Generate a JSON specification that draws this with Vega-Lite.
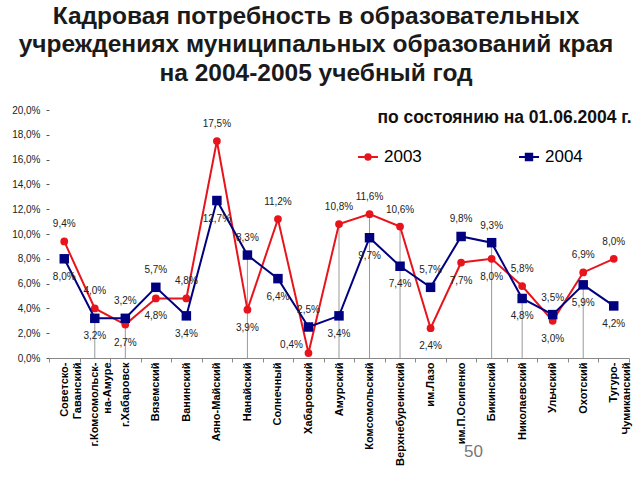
{
  "$schema": "https://vega.github.io/schema/vega-lite/v6.json",
  "width": 580,
  "height": 248,
  "autosize": {"type": "none"},
  "padding": {"left": 49, "top": 110, "right": 11, "bottom": 122},
  "background": "white",
  "title": {
    "text": ["Кадровая потребность в образовательных", "учреждениях муниципальных образований края", "на 2004-2005 учебный год"],
    "font": "Liberation Sans",
    "fontSize": 24.5,
    "fontWeight": "bold",
    "color": "#1a1a1a",
    "lineHeight": 28.5,
    "anchor": "middle",
    "dx": -23,
    "offset": 19
  },
  "config": {
    "view": {"stroke": null},
    "font": "Liberation Sans",
    "axisY": {
      "labelOverlap": false,
      "tickCount": 11,
      "values": [0, 0.02, 0.04, 0.06, 0.08, 0.1, 0.12, 0.14, 0.16, 0.18, 0.2],
      "labelFontSize": 10,
      "labelColor": "#222222",
      "labelPadding": 6,
      "domain": false,
      "tickSize": 3,
      "tickColor": "#555555",
      "grid": false
    },
    "locale": {"number": {"decimal": ",", "thousands": " ", "grouping": [3], "currency": ["", ""]}}
  },
  "data": {
    "values": [
      {"region": "Советско-\nГаванский", "y2003": 0.094, "y2004": 0.080, "drop": null},
      {"region": "г.Комсомольск-\nна-Амуре", "y2003": 0.040, "y2004": 0.032, "drop": 0.032},
      {"region": "г.Хабаровск", "y2003": 0.027, "y2004": 0.032, "drop": 0.032},
      {"region": "Вяземский", "y2003": 0.048, "y2004": 0.057, "drop": null},
      {"region": "Ванинский", "y2003": 0.048, "y2004": 0.034, "drop": null},
      {"region": "Аяно-Майский", "y2003": 0.175, "y2004": 0.127, "drop": null},
      {"region": "Нанайский", "y2003": 0.039, "y2004": 0.083, "drop": 0.083},
      {"region": "Солнечный", "y2003": 0.112, "y2004": 0.064, "drop": null},
      {"region": "Хабаровский", "y2003": 0.004, "y2004": 0.025, "drop": null},
      {"region": "Амурский", "y2003": 0.108, "y2004": 0.034, "drop": 0.108},
      {"region": "Комсомольский", "y2003": 0.116, "y2004": 0.097, "drop": 0.116},
      {"region": "Верхнебуреинский", "y2003": 0.106, "y2004": 0.074, "drop": 0.106},
      {"region": "им.Лазо", "y2003": 0.024, "y2004": 0.057, "drop": null},
      {"region": "им.П.Осипенко", "y2003": 0.077, "y2004": 0.098, "drop": null},
      {"region": "Бикинский", "y2003": 0.080, "y2004": 0.093, "drop": 0.093},
      {"region": "Николаевский", "y2003": 0.058, "y2004": 0.048, "drop": 0.048},
      {"region": "Ульчский", "y2003": 0.030, "y2004": 0.035, "drop": null},
      {"region": "Охотский", "y2003": 0.069, "y2004": 0.059, "drop": 0.059},
      {"region": "Тугуро-\nЧумиканский", "y2003": 0.080, "y2004": 0.042, "drop": null}
    ]
  },
  "encoding": {
    "x": {
      "field": "region",
      "type": "nominal",
      "sort": null,
      "scale": {
        "type": "band",
        "paddingInner": 0,
        "paddingOuter": 0,
        "domain": ["Советско-\nГаванский", "г.Комсомольск-\nна-Амуре", "г.Хабаровск", "Вяземский", "Ванинский", "Аяно-Майский", "Нанайский", "Солнечный", "Хабаровский", "Амурский", "Комсомольский", "Верхнебуреинский", "им.Лазо", "им.П.Осипенко", "Бикинский", "Николаевский", "Ульчский", "Охотский", "Тугуро-\nЧумиканский"]
      },
      "axis": {
        "title": "50",
        "titleX": 424,
        "titleY": 98,
        "titleAlign": "center",
        "titleBaseline": "alphabetic",
        "titleFontSize": 17,
        "titleFontWeight": "normal",
        "titleColor": "#777777",
        "labelExpr": "split(datum.label, '\\n')",
        "labelAngle": 270,
        "labelFontSize": 11,
        "labelFontWeight": "bold",
        "labelColor": "#000000",
        "labelLimit": 200,
        "labelPadding": 0,
        "tickBand": "extent",
        "tickSize": 4,
        "tickColor": "#888888",
        "domainColor": "#888888",
        "grid": false
      }
    }
  },
  "layer": [
    {
      "transform": [{"filter": "isValid(datum.drop)"}],
      "mark": {"type": "rule", "color": "#999999", "strokeWidth": 1},
      "encoding": {
        "y": {
          "field": "drop",
          "type": "quantitative",
          "scale": {"domain": [0, 0.2], "nice": false},
          "axis": {
            "title": "по состоянию на 01.06.2004 г.",
            "titleAngle": 0,
            "titleX": 328,
            "titleY": 12,
            "titleAlign": "left",
            "titleBaseline": "alphabetic",
            "titleFontSize": 17.5,
            "titleFontWeight": "bold",
            "titleColor": "#111111",
            "values": [0, 0.02, 0.04, 0.06, 0.08, 0.1, 0.12, 0.14, 0.16, 0.18, 0.2],
            "tickCount": 11,
            "labelExpr": "replace(format(datum.value, '.1%'), '.', ',')",
            "labelOverlap": false
          }
        },
        "y2": {"datum": 0}
      }
    },
    {
      "mark": {"type": "line", "strokeWidth": 2, "point": {"filled": true, "shape": "circle", "size": 60}},
      "encoding": {
        "y": {"field": "y2003", "type": "quantitative", "axis": {"values": [0, 0.02, 0.04, 0.06, 0.08, 0.1, 0.12, 0.14, 0.16, 0.18, 0.2], "labelOverlap": false}},
        "color": {
          "datum": "2003",
          "scale": {"domain": ["2003", "2004"], "range": ["#e8141c", "#000080"]},
          "legend": {
            "orient": "none",
            "legendX": 308,
            "legendY": 36,
            "direction": "horizontal",
            "title": null,
            "padding": 0,
            "labelFontSize": 17,
            "labelColor": "#000000",
            "labelOffset": 5,
            "symbolSize": 400,
            "columnPadding": 93,
            "encode": {
              "symbols": {
                "update": {
                  "shape": {"signal": "datum.value === '2003' ? 'M-1,0H1M-0.27,0A0.27,0.27,0,1,1,0.27,0A0.27,0.27,0,1,1,-0.27,0Z' : 'M-1,0H1M-0.32,-0.32H0.32V0.32H-0.32Z'"},
                  "fill": {"signal": "datum.value === '2003' ? '#e8141c' : '#000080'"},
                  "stroke": {"signal": "datum.value === '2003' ? '#e8141c' : '#000080'"},
                  "strokeWidth": {"value": 2},
                  "opacity": {"value": 1}
                }
              }
            }
          }
        }
      }
    },
    {
      "mark": {"type": "line", "strokeWidth": 2, "point": {"filled": true, "shape": "square", "size": 90}},
      "encoding": {
        "y": {"field": "y2004", "type": "quantitative", "axis": {"values": [0, 0.02, 0.04, 0.06, 0.08, 0.1, 0.12, 0.14, 0.16, 0.18, 0.2], "labelOverlap": false}},
        "color": {"datum": "2004"}
      }
    },
    {
      "transform": [{"filter": "datum.y2003 >= datum.y2004"}],
      "mark": {"type": "text", "fontSize": 10, "color": "#222222", "dy": -17, "baseline": "middle"},
      "encoding": {
        "y": {"field": "y2003", "type": "quantitative", "axis": {"values": [0, 0.02, 0.04, 0.06, 0.08, 0.1, 0.12, 0.14, 0.16, 0.18, 0.2], "labelOverlap": false}},
        "text": {"field": "y2003", "type": "quantitative", "format": ".1%"}
      }
    },
    {
      "transform": [{"filter": "datum.y2003 < datum.y2004 && datum.y2003 >= 0.01"}],
      "mark": {"type": "text", "fontSize": 10, "color": "#222222", "dy": 18, "baseline": "middle"},
      "encoding": {
        "y": {"field": "y2003", "type": "quantitative", "axis": {"values": [0, 0.02, 0.04, 0.06, 0.08, 0.1, 0.12, 0.14, 0.16, 0.18, 0.2], "labelOverlap": false}},
        "text": {"field": "y2003", "type": "quantitative", "format": ".1%"}
      }
    },
    {
      "transform": [{"filter": "datum.y2003 < 0.01"}],
      "mark": {"type": "text", "fontSize": 10, "color": "#222222", "dx": -17, "dy": -8, "baseline": "middle"},
      "encoding": {
        "y": {"field": "y2003", "type": "quantitative", "axis": {"values": [0, 0.02, 0.04, 0.06, 0.08, 0.1, 0.12, 0.14, 0.16, 0.18, 0.2], "labelOverlap": false}},
        "text": {"field": "y2003", "type": "quantitative", "format": ".1%"}
      }
    },
    {
      "transform": [{"filter": "datum.y2004 > datum.y2003"}],
      "mark": {"type": "text", "fontSize": 10, "color": "#222222", "dy": -17, "baseline": "middle"},
      "encoding": {
        "y": {"field": "y2004", "type": "quantitative", "axis": {"values": [0, 0.02, 0.04, 0.06, 0.08, 0.1, 0.12, 0.14, 0.16, 0.18, 0.2], "labelOverlap": false}},
        "text": {"field": "y2004", "type": "quantitative", "format": ".1%"}
      }
    },
    {
      "transform": [{"filter": "datum.y2004 <= datum.y2003"}],
      "mark": {"type": "text", "fontSize": 10, "color": "#222222", "dy": 18, "baseline": "middle"},
      "encoding": {
        "y": {"field": "y2004", "type": "quantitative", "axis": {"values": [0, 0.02, 0.04, 0.06, 0.08, 0.1, 0.12, 0.14, 0.16, 0.18, 0.2], "labelOverlap": false}},
        "text": {"field": "y2004", "type": "quantitative", "format": ".1%"}
      }
    }
  ]
}
